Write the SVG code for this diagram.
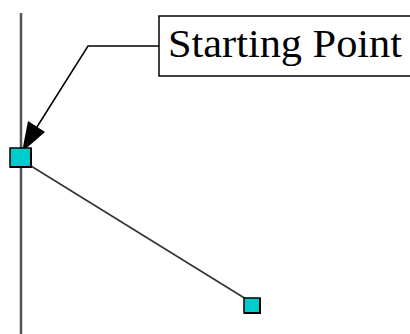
<svg xmlns="http://www.w3.org/2000/svg" width="410" height="334" viewBox="0 0 410 334">
<defs>
<style>
.handle{fill:#00cccc;stroke:#000;stroke-width:1.5}
.shadow{fill:none;stroke:#000;stroke-width:2}
</style>
<marker id="arrow" markerWidth="12" markerHeight="12" refX="11" refY="6" orient="auto" markerUnits="userSpaceOnUse" viewBox="0 0 12 12">
<path d="M0,0 L12,6 L0,12 Z" fill="#000"/>
</marker>
</defs>
<rect width="410" height="334" fill="#fff"/>
<line x1="21" y1="13" x2="21" y2="334" stroke="#555" stroke-width="2.5"/>
<g id="connectors">
<line x1="31" y1="166" x2="246" y2="299" stroke="#333" stroke-width="1.6"/>
<polyline points="159,46 88,46 30,138" fill="none" stroke="#000" stroke-width="1.5"/>
<polygon points="22,152 28,121 45,132" fill="#000"/>
</g>
<g id="start">
<rect class="handle" x="10" y="148" width="21" height="19"/>
<polyline class="shadow" points="31,148 31,167 10,167"/>
</g>
<g id="end">
<rect class="handle" x="244" y="298" width="16" height="15"/>
<polyline class="shadow" points="260,298 260,313 244,313"/>
</g>
<g id="label">
<rect x="159" y="16" width="260" height="60" fill="#fff" stroke="#000" stroke-width="1.5"/>
<text x="168" y="57" font-family="Liberation Serif, serif" font-size="40" textLength="234" lengthAdjust="spacingAndGlyphs" fill="#000">Starting Point</text>
</g>
</svg>
